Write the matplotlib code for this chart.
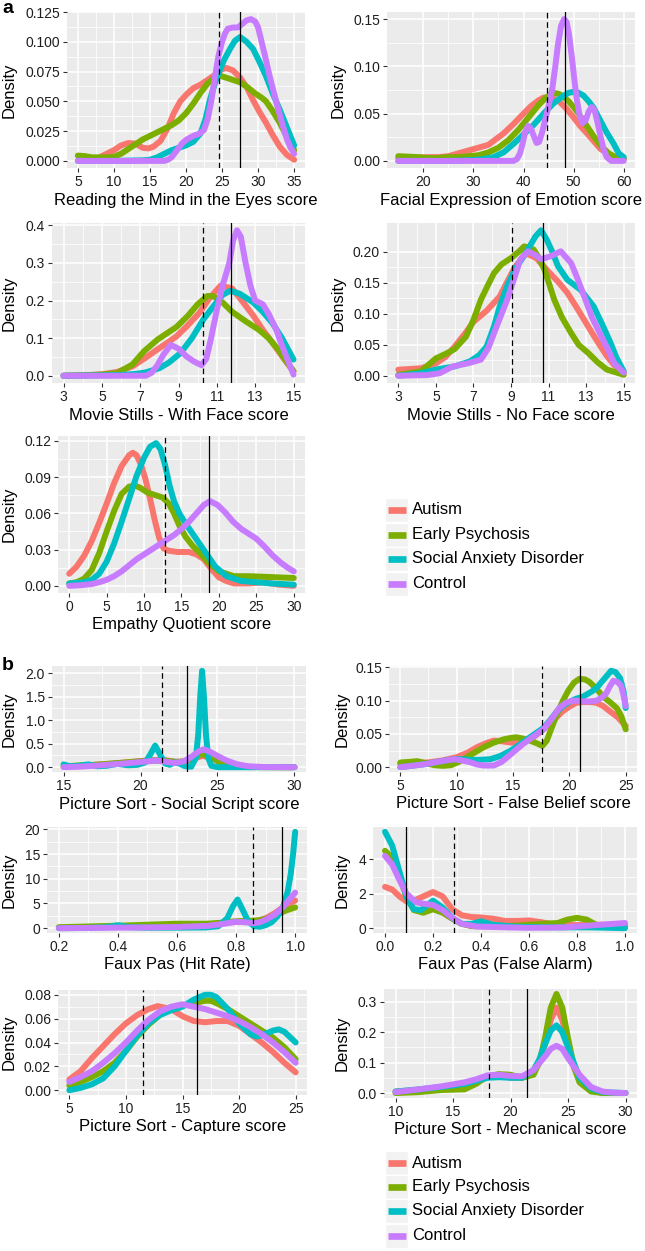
import matplotlib
matplotlib.use("Agg")
import matplotlib.pyplot as plt
from matplotlib.patches import Rectangle

plt.rcParams['font.family'] = ['Liberation Sans', 'DejaVu Sans']

### Data ###

groups = ["Autism", "Early Psychosis", "Social Anxiety Disorder", "Control"]
colors = ["#F8766D", "#7CAE00", "#00BFC4", "#C77CFF"]

# Reading the Mind in the Eyes
rme_aut = [(8,.003),(9,.006),(10,.009),(11,.013),(12,.015),(13,.0145),(14,.011),(14.8,.0105),(15.5,.012),(16.5,.017),(17.5,.028),(18.3,.040),(19.2,.050),(20.1,.056),(21,.061),(22,.064),(23,.068),(24.2,.073),(25,.077),(25.6,.078),(26.5,.076),(27.5,.07),(28.5,.061),(29.3,.051),(30.2,.041),(31.1,.032),(32,.022),(33,.012),(34,.005),(35,.001)]
rme_ep = [(5,.0045),(6,.004),(7,.003),(8,.003),(9,.003),(10,.0035),(11,.006),(12,.01),(13,.014),(14,.018),(15,.021),(16,.024),(17,.027),(18,.03),(19,.034),(20,.040),(21,.048),(22,.057),(23,.065),(24,.070),(24.7,.0715),(25.5,.070),(26.5,.068),(27.5,.066),(28.5,.062),(29.5,.057),(30.5,.053),(31.1,.050),(32,.042),(33,.032),(34,.02),(35,.009)]
rme_sad = [(5,0),(10,0),(14,.0005),(15,.001),(16,.003),(17,.006),(18,.009),(19,.011),(20,.013),(21,.016),(22,.023),(22.7,.035),(23.3,.051),(24,.065),(24.6,.075),(25.3,.085),(26.1,.094),(26.8,.101),(27.5,.104),(28.4,.1),(29.3,.094),(30.2,.083),(31.1,.071),(32,.057),(33,.043),(34,.028),(34.8,.016),(35,.013)]
rme_con = [(5,0),(17,0),(17.5,.001),(18,.003),(18.5,.007),(19,.011),(19.5,.015),(20.1,.018),(21,.021),(21.9,.023),(22.5,.026),(23,.035),(23.5,.05),(24,.07),(24.5,.088),(25,.1),(25.4,.107),(25.8,.111),(26.5,.112),(27.2,.112),(27.8,.115),(28.4,.118),(29,.119),(29.6,.117),(30,.112),(30.4,.102),(31,.087),(31.6,.071),(32.2,.057),(32.8,.043),(33.4,.03),(34,.018),(34.5,.011),(35,.006)]

# Facial Expression of Emotion
fee_aut = [(15,.003),(17,.003),(19,.0035),(21,.004),(23,.004),(25,.005),(27,.008),(29,.011),(31,.014),(33,.017),(34,.021),(36,.029),(38,.039),(40,.05),(41.5,.058),(43,.064),(44,.067),(45,.067),(46,.066),(47.3,.062),(48.6,.055),(50,.046),(51.3,.037),(52.7,.029),(54,.021),(55.3,.013),(56.7,.008),(58,.0045),(60,.002)]
fee_ep = [(15,.005),(17,.0045),(19,.004),(21,.003),(23,.003),(25,.004),(27,.004),(29,.005),(31,.006),(33,.009),(35,.014),(37,.022),(39,.033),(41,.046),(43,.059),(44.5,.067),(46,.072),(47,.071),(48,.068),(49,.063),(50,.057),(51,.05),(52,.042),(53,.034),(54,.026),(55,.019),(56,.013),(57,.008),(58,.005),(59,.003),(60,.002)]
fee_sad = [(15,0),(25,0),(28,.0005),(30,.001),(32,.002),(34,.004),(36,.009),(38,.018),(40,.028),(42,.038),(44,.05),(46,.061),(48,.069),(49,.072),(50,.073),(51,.072),(52,.069),(53,.063),(54,.056),(55.3,.043),(56.5,.031),(58,.018),(59,.008),(60,.004)]
fee_con = [(15,0),(38,0),(38.7,.002),(39.3,.008),(39.8,.018),(40.3,.03),(40.9,.037),(41.5,.034),(42,.027),(42.6,.019),(43.1,.02),(43.7,.03),(44.3,.043),(45,.058),(45.7,.075),(46.3,.098),(46.9,.124),(47.5,.143),(48.1,.15),(48.6,.147),(49.1,.133),(49.6,.112),(50.1,.088),(50.6,.066),(51.2,.048),(51.8,.04),(52.4,.043),(53,.052),(53.6,.057),(54.2,.053),(54.8,.04),(55.4,.025),(56,.012),(56.6,.004),(57.5,0),(60,0)]

# Movie Stills - With Face
msf_aut = [(3,0),(4,.001),(5,.004),(5.8,.01),(6.6,.025),(7.2,.045),(7.9,.07),(8.4,.087),(8.9,.105),(9.5,.135),(10.1,.168),(10.6,.205),(11.2,.24),(11.8,.232),(12.3,.2),(12.9,.16),(13.4,.122),(13.9,.088),(14.5,.045),(15,.012)]
msf_ep = [(3,0),(4,.001),(5,.003),(5.8,.007),(6.6,.03),(7.2,.065),(7.9,.096),(8.4,.113),(8.9,.13),(9.5,.16),(10,.19),(10.5,.212),(10.8,.212),(11.3,.195),(11.8,.17),(12.5,.145),(13.2,.122),(13.7,.1),(14.2,.07),(14.6,.04),(15,.012)]
msf_sad = [(3,0),(5,.001),(6,.002),(6.8,.005),(7.3,.009),(8,.02),(8.5,.035),(9.1,.06),(9.7,.1),(10.3,.15),(10.9,.19),(11.3,.215),(11.7,.226),(12.2,.218),(12.9,.195),(13.4,.17),(13.9,.14),(14.4,.1),(15,.043)]
msf_con = [(3,0),(7.3,0),(7.6,.008),(7.9,.028),(8.2,.055),(8.6,.082),(9,.072),(9.4,.052),(9.8,.038),(10.2,.028),(10.45,.045),(10.7,.1),(11,.175),(11.3,.24),(11.65,.3),(11.85,.36),(12.05,.387),(12.25,.37),(12.5,.3),(12.75,.24),(13,.2),(13.4,.19),(13.7,.165),(14.1,.123),(14.4,.08),(14.75,.035),(15,.003)]

# Movie Stills - No Face
msn_aut = [(3,.0097),(4.2,.012),(5,.02),(5.5,.03),(6,.047),(6.6,.07),(7,.087),(7.7,.105),(8.4,.128),(8.8,.152),(9.2,.175),(9.8,.198),(10.35,.19),(11,.168),(11.5,.152),(12,.134),(12.5,.11),(13,.085),(13.5,.06),(14.1,.032),(14.5,.017),(15,.006)]
msn_ep = [(3,.0015),(4.2,.007),(5,.028),(5.5,.035),(6,.043),(6.6,.063),(7,.09),(7.4,.123),(7.8,.148),(8.1,.166),(8.5,.18),(9,.19),(9.4,.2),(9.7,.209),(10.2,.204),(10.5,.19),(10.8,.17),(11.3,.123),(11.7,.095),(12.2,.069),(12.6,.05),(13.1,.037),(13.6,.022),(14.1,.01),(15,.0015)]
msn_sad = [(3,0),(4.2,.004),(5,.01),(6,.015),(6.8,.023),(7.3,.033),(7.7,.047),(8.1,.08),(8.4,.112),(8.8,.145),(9.2,.171),(9.9,.204),(10.3,.225),(10.6,.235),(10.9,.22),(11.2,.2),(11.5,.177),(12,.155),(12.7,.139),(13.4,.112),(13.9,.08),(14.3,.053),(14.6,.03),(15,.007)]
msn_con = [(3,0),(4.5,.001),(5.2,.004),(5.9,.015),(6.7,.02),(7.4,.026),(7.8,.045),(8.1,.069),(8.5,.1),(8.8,.123),(9.2,.16),(9.5,.188),(9.9,.201),(10.3,.195),(10.6,.188),(11.1,.193),(11.65,.201),(12.2,.182),(12.5,.16),(12.9,.128),(13.3,.095),(13.8,.064),(14.2,.04),(14.5,.02),(15,.005)]

# Empathy Quotient
eq_aut = [(0,.01),(1,.016),(2,.025),(3,.037),(4,.052),(5,.068),(6,.085),(7,.099),(8,.108),(8.5,.11),(9,.108),(9.6,.1),(10.2,.088),(10.8,.072),(11.4,.055),(12,.04),(12.6,.031),(13.3,.029),(14.5,.028),(16,.028),(17,.026),(18,.022),(19,.014),(20,.007),(21,.004),(22,.002),(24,.002),(26,.003),(28,.001),(30,0)]
eq_ep = [(0,.002),(1,.003),(2,.006),(3,.013),(4,.027),(5,.045),(6,.062),(7,.076),(8,.082),(8.8,.083),(9.5,.081),(10.5,.077),(11.5,.075),(12.5,.073),(13.3,.068),(14,.06),(14.7,.05),(15.5,.041),(16.5,.033),(17.5,.027),(18.5,.02),(20,.012),(22,.008),(24,.008),(26,.0075),(28,.007),(30,.0065)]
eq_sad = [(0,.002),(2,.003),(3,.005),(4,.01),(5,.02),(6,.035),(7,.053),(8,.072),(9,.091),(10,.106),(10.8,.115),(11.6,.118),(12.2,.113),(12.8,.1),(13.4,.083),(14,.07),(14.7,.06),(15.5,.052),(16.5,.043),(17.5,.034),(18.5,.025),(19.5,.016),(21,.008),(23,.004),(25,.003),(27,.002),(30,.001)]
eq_con = [(0,0),(1.5,.0005),(3,.0015),(4,.003),(5,.005),(6,.008),(7,.012),(8,.017),(9,.022),(10,.026),(11,.03),(12,.034),(13,.038),(14,.042),(15,.047),(16,.053),(17,.06),(18,.067),(18.8,.07),(19.8,.067),(20.8,.061),(21.9,.053),(23,.047),(24,.043),(25,.039),(26,.033),(27.2,.025),(28.3,.019),(29.2,.015),(30,.012)]

# Picture Sort - Social Script
ss_aut = [(15,.02),(16,.03),(17,.05),(18,.07),(19,.1),(20,.13),(20.8,.15),(21.5,.15),(22.2,.12),(22.8,.11),(23.4,.17),(24,.24),(24.6,.2),(25.2,.1),(26,.03),(27,.005),(30,0)]
ss_ep = [(15,.02),(16,.035),(17,.05),(18,.075),(19,.1),(20,.125),(21,.14),(21.6,.14),(22.3,.11),(22.9,.13),(23.5,.22),(24,.28),(24.5,.22),(25.2,.1),(26,.025),(27,.003),(30,0)]
ss_sad = [(15,.06),(15.4,.02),(16,.03),(16.6,.06),(17.2,.02),(17.8,.03),(18.5,.07),(19.2,.04),(19.8,.05),(20.3,.1),(20.6,.25),(20.95,.46),(21.3,.25),(21.6,.08),(21.9,.05),(22.2,.1),(22.5,.08),(22.9,.02),(23.3,.01),(23.6,.2),(23.75,.7),(23.88,1.5),(24,2.05),(24.12,1.5),(24.25,.7),(24.4,.2),(24.6,.03),(25,0),(30,0)]
ss_con = [(15,0),(16,.01),(17,.03),(18,.055),(19,.08),(20,.11),(21,.14),(21.6,.12),(22.2,.09),(22.8,.12),(23.3,.22),(23.8,.34),(24.1,.38),(24.5,.33),(25,.24),(25.6,.14),(26.3,.06),(27,.02),(28,.003),(30,0)]

# Picture Sort - False Belief
fb_aut = [(5,.005),(6,.006),(7.4,.007),(8.7,.01),(10,.015),(11,.022),(11.8,.03),(12.6,.036),(13.3,.04),(14,.039),(14.8,.037),(15.6,.037),(16.2,.04),(16.8,.045),(17.5,.054),(18.2,.064),(18.8,.074),(19.4,.084),(20,.091),(20.6,.097),(21.2,.098),(21.8,.098),(22.4,.097),(23,.092),(23.6,.084),(24.3,.075),(25,.062)]
fb_ep = [(5,.007),(5.8,.008),(6.5,.009),(7.3,.006),(8,.003),(8.8,.002),(9.5,.003),(10.2,.008),(10.9,.015),(11.6,.022),(12.4,.03),(13.3,.037),(14.2,.042),(14.8,.044),(15.3,.045),(15.9,.043),(16.5,.04),(17.1,.036),(17.6,.032),(18,.04),(18.4,.058),(18.9,.08),(19.4,.099),(19.9,.115),(20.4,.127),(20.9,.133),(21.4,.132),(21.8,.128),(22.4,.118),(23,.106),(23.6,.098),(24.2,.089),(24.6,.077),(25,.057)]
fb_sad = [(5,0),(6,.002),(7.4,.005),(8.6,.009),(9.8,.012),(10.5,.012),(11.2,.011),(12,.011),(13,.012),(13.9,.017),(14.8,.025),(15.6,.034),(16.5,.045),(17.1,.052),(17.7,.059),(18.3,.071),(18.9,.084),(19.5,.093),(20.1,.099),(20.6,.103),(21.2,.106),(21.6,.11),(22,.114),(22.4,.119),(22.8,.127),(23.3,.137),(23.7,.145),(24.1,.143),(24.5,.134),(24.8,.115),(25,.089)]
fb_con = [(5,0),(6,.002),(7.4,.005),(8.6,.009),(9.8,.012),(10.5,.01),(11.2,.0075),(11.8,.004),(12.4,.0025),(13.3,.0025),(14,.008),(14.5,.015),(15.2,.025),(15.9,.035),(16.8,.046),(17.7,.057),(18.4,.072),(19.1,.089),(19.7,.097),(20.3,.1),(20.8,.1),(21.2,.099),(21.8,.099),(22.4,.1),(22.9,.105),(23.3,.112),(23.6,.122),(23.9,.13),(24.3,.128),(24.6,.122),(24.85,.105),(25,.092)]

# Faux Pas (Hit Rate)
hr_aut = [(.2,.1),(.3,.2),(.4,.3),(.5,.4),(.6,.5),(.7,.6),(.75,.9),(.78,1.2),(.82,1.3),(.86,1.3),(.9,2.0),(.93,3.0),(.96,4.3),(.98,5.0),(1.0,5.6)]
hr_ep = [(.2,.2),(.3,.35),(.4,.5),(.5,.7),(.6,.9),(.7,.9),(.75,1.1),(.8,1.4),(.85,1.5),(.88,1.6),(.91,2.0),(.94,2.8),(.97,3.6),(1.0,4.2)]
hr_sad = [(.2,0),(.3,.05),(.36,.2),(.4,.6),(.44,.2),(.5,.1),(.6,.1),(.7,.15),(.74,.4),(.77,2.0),(.79,4.5),(.805,5.8),(.82,4.0),(.84,1.5),(.86,.4),(.88,.3),(.9,.6),(.92,1.2),(.94,2.4),(.96,4.5),(.975,7.5),(.985,11),(.993,15),(1.0,19.5)]
hr_con = [(.2,0),(.3,.05),(.4,.1),(.5,.15),(.6,.25),(.7,.45),(.75,.8),(.8,1.3),(.83,1.2),(.86,1.0),(.88,1.2),(.9,1.7),(.93,2.7),(.96,4.3),(.98,5.8),(1.0,7.2)]

# Faux Pas (False Alarm)
fa_aut = [(0,2.4),(.03,2.25),(.06,1.85),(.09,1.55),(.12,1.6),(.16,1.85),(.2,2.1),(.24,1.85),(.28,1.1),(.32,.75),(.36,.65),(.4,.62),(.45,.55),(.5,.42),(.55,.42),(.6,.45),(.65,.35),(.7,.22),(.8,.18),(.9,.2),(1.0,.2)]
fa_ep = [(0,4.5),(.03,4.1),(.06,3.0),(.09,1.8),(.12,1.05),(.16,.9),(.2,1.1),(.24,.9),(.28,.55),(.32,.25),(.36,.12),(.45,.1),(.55,.15),(.65,.25),(.72,.3),(.76,.5),(.8,.6),(.84,.5),(.88,.2),(.92,.08),(1.0,.1)]
fa_sad = [(0,5.6),(.03,4.8),(.06,3.3),(.09,1.8),(.12,1.1),(.15,1.05),(.2,1.6),(.24,1.2),(.28,.6),(.32,.25),(.36,.25),(.4,.4),(.45,.2),(.55,.08),(.7,.05),(.85,.05),(1.0,0)]
fa_con = [(0,4.2),(.03,3.7),(.06,2.8),(.09,2.0),(.13,1.5),(.17,1.4),(.2,1.35),(.24,1.05),(.28,.6),(.32,.25),(.38,.1),(.5,.05),(.6,.02),(.75,.05),(.85,.15),(1.0,.3)]

# Picture Sort - Capture
cap_aut = [(5,.009),(6,.016),(7,.027),(8,.037),(9,.047),(10,.056),(11,.063),(12,.068),(12.8,.0705),(14,.068),(15,.062),(16,.058),(17,.057),(18,.058),(19,.058),(20,.054),(21,.047),(22,.04),(23,.032),(24,.023),(25,.015)]
cap_ep = [(5,.004),(6,.007),(7,.011),(8,.016),(9,.023),(10,.033),(11,.045),(12,.055),(13,.063),(14,.068),(15,.071),(16,.073),(17,.075),(17.5,.075),(18,.073),(19,.068),(20,.062),(21,.056),(22,.05),(23,.044),(24,.036),(25,.026)]
cap_sad = [(5,0),(6,.002),(7,.005),(8,.01),(9,.02),(10,.033),(11,.046),(12,.056),(13,.063),(14,.067),(15,.07),(16,.076),(17,.08),(17.5,.08),(18,.078),(19,.068),(20,.056),(21,.047),(21.5,.045),(22,.046),(23,.05),(23.5,.051),(24,.049),(25,.04)]
cap_con = [(5,.007),(6,.011),(7,.016),(8,.023),(9,.031),(10,.04),(11,.05),(12,.059),(13,.066),(14,.07),(15,.072),(16,.07),(17,.068),(18,.065),(19,.062),(20,.058),(21,.053),(22,.047),(23,.04),(24,.032),(25,.023)]

# Picture Sort - Mechanical
mec_aut = [(10,.005),(12,.01),(14,.015),(16,.025),(17,.04),(18,.055),(19,.06),(20,.05),(21,.05),(22,.07),(22.5,.1),(23,.16),(23.5,.24),(24,.28),(24.5,.24),(25,.16),(25.5,.085),(26,.04),(27,.01),(28,0),(30,0)]
mec_ep = [(10,0),(12,.003),(14,.01),(16,.012),(17,.03),(18,.055),(19,.062),(20,.06),(21,.05),(22,.06),(22.5,.1),(23,.18),(23.5,.28),(24,.325),(24.5,.28),(25,.18),(25.5,.09),(26,.035),(27,.005),(28,0),(30,0)]
mec_sad = [(10,.005),(12,.012),(14,.02),(16,.03),(17,.04),(18,.05),(19,.052),(20,.05),(21,.05),(22,.075),(22.5,.11),(23,.16),(23.5,.205),(24,.222),(24.5,.2),(25,.15),(25.5,.1),(26,.05),(27,.015),(28,.003),(30,0)]
mec_con = [(10,.003),(12,.012),(14,.022),(16,.035),(17,.045),(18,.058),(19,.06),(20,.056),(21,.055),(22,.075),(23,.12),(23.5,.145),(24,.155),(24.5,.145),(25,.115),(26,.06),(27,.02),(28,.005),(29,.001),(30,0)]

### Layout (pixels of a 645 x 1251 figure) ###

W, H = 645, 1251

def rect(x0, y0, x1, y1):
  return [x0 / W, 1 - y1 / H, (x1 - x0) / W, (y1 - y0) / H]

panels = [
  # box, curves, xticks, xticklabels, yticks, yticklabels, xlabel, dashed, solid, ylabel x
  ((67, 12, 305, 168), (rme_aut, rme_ep, rme_sad, rme_con),
   [5, 10, 15, 20, 25, 30, 35], None,
   [0, .025, .05, .075, .1, .125], ["0.000", "0.025", "0.050", "0.075", "0.100", "0.125"],
   "Reading the Mind in the Eyes score", 24.6, 27.45, 9),
  ((387, 12, 635, 168), (fee_aut, fee_ep, fee_sad, fee_con),
   [20, 30, 40, 50, 60], None,
   [0, .05, .1, .15], ["0.00", "0.05", "0.10", "0.15"],
   "Facial Expression of Emotion score", 44.75, 48.3, 338),
  ((52, 223, 305, 383), (msf_aut, msf_ep, msf_sad, msf_con),
   [3, 5, 7, 9, 11, 13, 15], None,
   [0, .1, .2, .3, .4], ["0.0", "0.1", "0.2", "0.3", "0.4"],
   "Movie Stills - With Face score", 10.3, 11.75, 9),
  ((387, 223, 635, 383), (msn_aut, msn_ep, msn_sad, msn_con),
   [3, 5, 7, 9, 11, 13, 15], None,
   [0, .05, .1, .15, .2], ["0.00", "0.05", "0.10", "0.15", "0.20"],
   "Movie Stills - No Face score", 9.03, 10.7, 338),
  ((58, 436, 305, 593), (eq_aut, eq_ep, eq_sad, eq_con),
   [0, 5, 10, 15, 20, 25, 30], None,
   [0, .03, .06, .09, .12], ["0.00", "0.03", "0.06", "0.09", "0.12"],
   "Empathy Quotient score", 12.8, 18.7, 9),
  ((52, 666, 306, 772), (ss_aut, ss_ep, ss_sad, ss_con),
   [15, 20, 25, 30], None,
   [0, .5, 1, 1.5, 2], ["0.0", "0.5", "1.0", "1.5", "2.0"],
   "Picture Sort - Social Script score", 21.37, 23.03, 9),
  ((389, 666, 637, 772), (fb_aut, fb_ep, fb_sad, fb_con),
   [5, 10, 15, 20, 25], None,
   [0, .05, .1, .15], ["0.00", "0.05", "0.10", "0.15"],
   "Picture Sort - False Belief score", 17.6, 20.94, 342),
  ((47, 827, 307, 933), (hr_aut, hr_ep, hr_sad, hr_con),
   [.2, .4, .6, .8, 1.0], ["0.2", "0.4", "0.6", "0.8", "1.0"],
   [0, 5, 10, 15, 20], ["0", "5", "10", "15", "20"],
   "Faux Pas (Hit Rate)", 0.858, 0.955, 9),
  ((373, 827, 637, 933), (fa_aut, fa_ep, fa_sad, fa_con),
   [0, .2, .4, .6, .8, 1.0], ["0.0", "0.2", "0.4", "0.6", "0.8", "1.0"],
   [0, 2, 4], ["0", "2", "4"],
   "Faux Pas (False Alarm)", 0.288, 0.089, 342),
  ((58, 990, 307, 1095), (cap_aut, cap_ep, cap_sad, cap_con),
   [5, 10, 15, 20, 25], None,
   [0, .02, .04, .06, .08], ["0.00", "0.02", "0.04", "0.06", "0.08"],
   "Picture Sort - Capture score", 11.5, 16.28, 9),
  ((384, 989, 637, 1098), (mec_aut, mec_ep, mec_sad, mec_con),
   [10, 15, 20, 25, 30], None,
   [0, .1, .2, .3], ["0.0", "0.1", "0.2", "0.3"],
   "Picture Sort - Mechanical score", 18.15, 21.47, 342),
]

'''
Draws one density panel in ggplot2's grey theme.
'''
def draw_panel(fig, box, curves, xt, xtl, yt, ytl, xlabel, dashed, solid, ylab_x):
  ax = fig.add_axes(rect(*box))
  ax.set_facecolor("#EBEBEB")
  for s in ax.spines.values():
    s.set_visible(False)

  for pts, col in zip(curves, colors):
    xs = [p[0] for p in pts]
    ys = [p[1] for p in pts]
    ax.plot(xs, ys, color=col, lw=4.3, solid_capstyle="round", solid_joinstyle="round", zorder=2)

  ax.axvline(dashed, color="black", lw=0.9, ls=(0, (4.5, 3)), zorder=3)
  ax.axvline(solid, color="black", lw=0.9, zorder=3)

  allx = [p[0] for c in curves for p in c]
  ally = [p[1] for c in curves for p in c]
  x0, x1 = min(allx), max(allx)
  ymax = max(ally)
  ax.set_xlim(x0 - 0.05 * (x1 - x0), x1 + 0.05 * (x1 - x0))
  ax.set_ylim(-0.05 * ymax, 1.05 * ymax)

  ax.set_xticks(xt)
  ax.set_xticklabels(xtl if xtl else [str(v) for v in xt])
  ax.set_yticks(yt)
  ax.set_yticklabels(ytl)
  ax.set_xticks([(a + b) / 2 for a, b in zip(xt[:-1], xt[1:])], minor=True)
  ax.set_yticks([(a + b) / 2 for a, b in zip(yt[:-1], yt[1:])], minor=True)
  ax.grid(which="major", color="white", lw=1.1)
  ax.grid(which="minor", color="white", lw=0.55)
  ax.set_axisbelow(True)
  ax.tick_params(which="major", length=3, width=0.8, color="#333333", pad=2,
                 labelsize=10, labelcolor="#1e1e1e")
  ax.tick_params(which="minor", length=0)

  w = box[2] - box[0]
  h = box[3] - box[1]
  ax.set_xlabel(xlabel, fontsize=12, va="center")
  ax.xaxis.set_label_coords(0.5, -32 / h)
  ax.set_ylabel("Density", fontsize=12, va="center")
  ax.yaxis.set_label_coords((ylab_x - box[0]) / w, 0.5)
  return ax

'''
Draws a ggplot-style legend with grey key boxes, rows centred on the given pixel rows.
'''
def draw_legend(lax, rows_y):
  for name, col, cy in zip(groups, colors, rows_y):
    lax.add_patch(Rectangle((385, cy - 12), 23, 24, facecolor="#F2F2F2", edgecolor="white", lw=1))
    lax.plot([387.5, 405.5], [cy, cy], color=col, lw=4.8, solid_capstyle="butt")
    lax.text(412, cy, name, fontsize=12, va="center", ha="left")

fig = plt.figure(figsize=(W / 100, H / 100), dpi=100)

for spec in panels:
  draw_panel(fig, *spec)

lax = fig.add_axes([0, 0, 1, 1], zorder=5)
lax.set_xlim(0, W)
lax.set_ylim(H, 0)
lax.axis("off")
draw_legend(lax, [510, 535, 559, 584])
draw_legend(lax, [1163, 1187, 1211, 1236])
lax.text(2, 13, "a", fontsize=14, fontweight="bold", va="baseline")
lax.text(2, 670, "b", fontsize=14, fontweight="bold", va="baseline")

plt.savefig("out.png", dpi=100)
